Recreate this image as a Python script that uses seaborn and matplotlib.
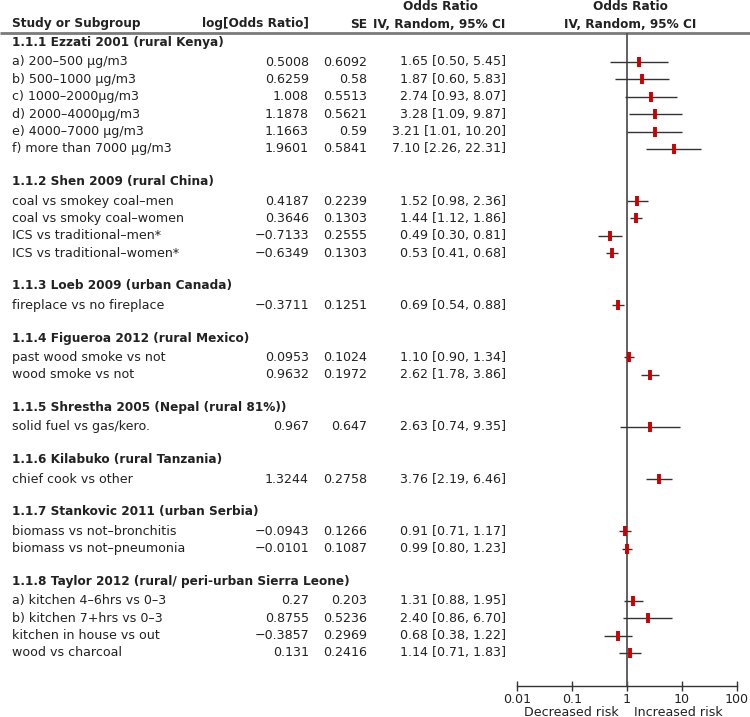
import numpy as np
import pandas as pd
import matplotlib
matplotlib.use('Agg')
import matplotlib.pyplot as plt
import seaborn as sns

# --- data ---
group_titles = [
    '1.1.1 Ezzati 2001 (rural Kenya)',
    '1.1.2 Shen 2009 (rural China)',
    '1.1.3 Loeb 2009 (urban Canada)',
    '1.1.4 Figueroa 2012 (rural Mexico)',
    '1.1.5 Shrestha 2005 (Nepal (rural 81%))',
    '1.1.6 Kilabuko (rural Tanzania)',
    '1.1.7 Stankovic 2011 (urban Serbia)',
    '1.1.8 Taylor 2012 (rural/ peri-urban Sierra Leone)',
]
group_sizes = [6, 4, 1, 2, 1, 1, 2, 4]

study_labels = [
    'a) 200–500 μg/m3', 'b) 500–1000 μg/m3', 'c) 1000–2000μg/m3',
    'd) 2000–4000μg/m3', 'e) 4000–7000 μg/m3', 'f) more than 7000 μg/m3',
    'coal vs smokey coal–men', 'coal vs smoky coal–women',
    'ICS vs traditional–men*', 'ICS vs traditional–women*',
    'fireplace vs no fireplace',
    'past wood smoke vs not', 'wood smoke vs not',
    'solid fuel vs gas/kero.',
    'chief cook vs other',
    'biomass vs not–bronchitis', 'biomass vs not–pneumonia',
    'a) kitchen 4–6hrs vs 0–3', 'b) kitchen 7+hrs vs 0–3',
    'kitchen in house vs out', 'wood vs charcoal',
]
log_or = [0.5008, 0.6259, 1.008, 1.1878, 1.1663, 1.9601,
          0.4187, 0.3646, -0.7133, -0.6349,
          -0.3711,
          0.0953, 0.9632,
          0.967,
          1.3244,
          -0.0943, -0.0101,
          0.27, 0.8755, -0.3857, 0.131]
se = [0.6092, 0.58, 0.5513, 0.5621, 0.59, 0.5841,
      0.2239, 0.1303, 0.2555, 0.1303,
      0.1251,
      0.1024, 0.1972,
      0.647,
      0.2758,
      0.1266, 0.1087,
      0.203, 0.5236, 0.2969, 0.2416]
odds_ratio = [1.65, 1.87, 2.74, 3.28, 3.21, 7.10,
              1.52, 1.44, 0.49, 0.53,
              0.69,
              1.10, 2.62,
              2.63,
              3.76,
              0.91, 0.99,
              1.31, 2.40, 0.68, 1.14]
ci_low = [0.50, 0.60, 0.93, 1.09, 1.01, 2.26,
          0.98, 1.12, 0.30, 0.41,
          0.54,
          0.90, 1.78,
          0.74,
          2.19,
          0.71, 0.80,
          0.88, 0.86, 0.38, 0.71]
ci_high = [5.45, 5.83, 8.07, 9.87, 10.20, 22.31,
           2.36, 1.86, 0.81, 0.68,
           0.88,
           1.34, 3.86,
           9.35,
           6.46,
           1.17, 1.23,
           1.95, 6.70, 1.22, 1.83]
tick_values = [0.01, 0.1, 1, 10, 100]
tick_labels = ['0.01', '0.1', '1', '10', '100']

# --- layout (pixel units, figure is 750 x 717) ---
W, H = 750, 717
FIRST_ROW = 62
STEP = 17.38
HEADER_LINE = 32.5
AXIS_Y = 686
X0, X1 = 517, 737   # pixel positions of 0.01 and 100
TXT = '#222222'
FS_B = 8.7   # bold headers
FS = 9.1     # row text

sns.set_theme(style="white")
plt.rcParams['font.family'] = ['DejaVu Sans']

# line index for each header and each study row
header_y, row_y = [], []
idx = 0
for n in group_sizes:
    header_y.append(FIRST_ROW + (idx - 1) * STEP - 2)
    idx += 1
    for _ in range(n):
        row_y.append(FIRST_ROW + (idx - 1) * STEP)
        idx += 1
    idx += 1

df = pd.DataFrame({
    'label': study_labels, 'log_or': log_or, 'se': se,
    'or_': odds_ratio, 'lo': ci_low, 'hi': ci_high, 'y': row_y,
})

fig = plt.figure(figsize=(W / 100, H / 100), dpi=100)
bg = fig.add_axes([0, 0, 1, 1])
bg.set_xlim(0, W)
bg.set_ylim(H, 0)
bg.axis('off')

# column headers
bold = dict(fontsize=FS_B, fontweight='bold', color=TXT, va='center')
bg.text(12, 24, 'Study or Subgroup', **bold)
bg.text(309, 24, 'log[Odds Ratio]', ha='right', **bold)
bg.text(367, 24, 'SE', ha='right', **bold)
bg.text(440, 7, 'Odds Ratio', ha='center', **bold)
bg.text(505, 24, 'IV, Random, 95% CI', ha='right', **bold)
bg.text(630, 7, 'Odds Ratio', ha='center', **bold)
bg.text(630, 24, 'IV, Random, 95% CI', ha='center', **bold)
bg.plot([0, W], [HEADER_LINE, HEADER_LINE], color='#7a7a7a', lw=2, solid_capstyle='butt')

for title, y in zip(group_titles, header_y):
    bg.text(12, y, title, **bold)


def fmt(v):
    return str(v).replace('-', '\u2212')


for _, r in df.iterrows():
    bg.text(12, r['y'], r['label'], fontsize=FS, color=TXT, va='center')
    bg.text(309, r['y'], fmt(r['log_or']), fontsize=FS, color=TXT, va='center', ha='right')
    bg.text(367, r['y'], fmt(r['se']), fontsize=FS, color=TXT, va='center', ha='right')
    bg.text(506, r['y'], f"{r['or_']:.2f} [{r['lo']:.2f}, {r['hi']:.2f}]",
            fontsize=FS, color=TXT, va='center', ha='right')

bg.text(619, 712, 'Decreased risk', fontsize=FS, color=TXT, va='center', ha='right')
bg.text(634, 712, 'Increased risk', fontsize=FS, color=TXT, va='center', ha='left')

# forest panel
ax = fig.add_axes([X0 / W, (H - AXIS_Y) / H, (X1 - X0) / W, (AXIS_Y - HEADER_LINE) / H])
ax.set_xscale('log')
ax.set_xlim(0.01, 100)
ax.set_ylim(AXIS_Y, HEADER_LINE)
ax.patch.set_alpha(0)
ax.axvline(1, color='#555555', lw=1.3, zorder=1)
ax.hlines(df['y'], df['lo'], df['hi'], color='#333333', lw=1.0, zorder=2)
sns.scatterplot(data=df, x='or_', y='y', marker='|', s=55, linewidth=2.8,
                color='#cc0000', ax=ax, zorder=3, legend=False)

for side in ['left', 'right', 'top']:
    ax.spines[side].set_visible(False)
ax.spines['bottom'].set_color('#333333')
ax.spines['bottom'].set_linewidth(1.0)
ax.set_yticks([])
ax.set_xticks(tick_values)
ax.set_xticklabels(tick_labels)
ax.xaxis.set_minor_locator(matplotlib.ticker.NullLocator())
ax.tick_params(axis='x', direction='inout', length=7, width=1, color='#333333',
               labelsize=FS, labelcolor=TXT, pad=1.5, bottom=True)
ax.set_xlabel('')
ax.set_ylabel('')

fig.savefig('out.png', dpi=100)
